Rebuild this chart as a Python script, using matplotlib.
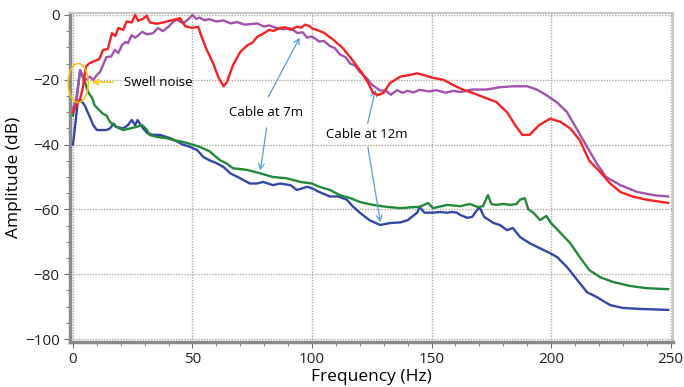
#!/usr/bin/env python3

from matplotlib import pyplot as plt
from matplotlib.patches import Ellipse
from matplotlib.ticker import MultipleLocator

# red curve
red_f = [0, 2, 3, 4, 5.4, 6.7, 8.4, 11, 12.6, 14.6, 16.3, 17.7, 19, 21, 22.5, 24.6, 26, 27.3,
         29.5, 30.8, 32.2, 35, 37.7, 42, 44.8, 47, 50, 52.4, 53.8, 56, 58.6, 60.7, 63, 64.4, 67,
         70, 73, 75, 77, 80, 82, 84, 86.6, 89, 91, 93.7, 95.5, 97, 99, 100, 102, 105, 109, 113,
         117, 121, 123.5, 125.5, 127.6, 130, 132.6, 137, 141, 144, 146.5, 150.6, 155, 159, 163,
         167, 173, 177, 181.6, 185, 188, 191, 195, 199.6, 204, 208, 212, 216, 220.5, 224.7, 229,
         234, 240, 249]
red_db = [-30, -27, -25.8, -23, -16, -15, -14.4, -13.6, -10.8, -10.5, -5.6, -6.5, -4, -4.6, -2,
          -2.3, 0, -1.8, -1.1, -0.2, -2.3, -2.7, -2.3, -1.5, -1, -3.5, -4, -3.6, -6.7, -10.8,
          -14.8, -19, -22, -20.7, -15.4, -11.4, -9.3, -8.6, -6.8, -5.6, -4.6, -4.9, -4, -3.8,
          -4.6, -3.6, -3.9, -3, -3.4, -4.1, -4.6, -5.5, -7.7, -10.3, -14, -18, -21, -24, -24.7,
          -24, -21, -19, -18.5, -18, -18.5, -19.4, -20, -21.6, -23, -24, -25.7, -26.8, -30, -34,
          -37, -37, -34, -32, -33, -35, -38.6, -45, -48.4, -52, -54.6, -56, -57, -58]

# purple curve
purple_f = [0, 1.6, 3, 4, 5.7, 7, 8.5, 10, 11.3, 12.6, 14, 16, 17.5, 19, 20.5, 22, 23, 24.6,
            26, 27, 29, 31, 33.5, 35.6, 37.6, 40, 42, 43.5, 46, 48, 50, 51.5, 53, 55, 57, 60,
            63, 66, 68.6, 72, 77, 80, 82, 85, 88, 91, 94, 96, 98, 100, 103, 105, 107.5, 109.5,
            111.7, 114, 116, 118, 120, 123, 125, 128.5, 131, 133, 135.5, 138, 140, 142.5, 145,
            149, 152, 156, 159, 162, 167, 173, 178.6, 184, 190, 194, 198, 202.5, 206.7, 211, 215,
            219, 223, 229, 236, 243, 249]
purple_db = [-29, -25, -17, -19, -20, -19, -20, -18.5, -17.6, -15.4, -13, -12.8, -10.8, -11.7,
             -9.3, -8.3, -8.7, -6.2, -7, -6.5, -5.2, -6, -5.6, -4, -5, -3.6, -2, -1.5, -2.5,
             -1.5, 0, -1.2, -0.8, -1.6, -1.3, -2, -1.7, -2.6, -2.2, -3, -2.6, -3.6, -3.2, -4,
             -4.4, -4.1, -5.6, -5.3, -7, -6.6, -8.2, -8, -9.6, -10.2, -12.2, -13, -15, -15.6,
             -17.6, -19.6, -21.5, -23.3, -23.4, -24.6, -23.2, -24, -23.4, -23.9, -23.1, -23.6,
             -23.2, -24, -23.4, -23.8, -23, -23, -22.3, -22, -22, -23, -24.7, -27, -30, -35.5,
             -40.6, -45.7, -50, -52.5, -54.6, -55.6, -56]

# green curve
green_f = [0, 1.5, 3, 5, 6.3, 8, 9, 10.5, 12.6, 14, 15.5, 18, 21, 24, 26.7, 29, 31, 32, 35, 39,
           42, 45, 47.7, 50, 53, 57, 61.5, 64, 67, 72.8, 78, 83.7, 89.5, 95, 100, 103, 107.5,
           111.7, 116, 120, 125.5, 131, 137, 142, 145, 148.6, 150.6, 156.5, 162, 166, 169.5,
           171.5, 173.6, 175, 177, 180, 183, 185.6, 187, 189, 190.5, 192.6, 195.4, 198, 200,
           204, 208, 212, 216, 220.5, 226, 233, 240, 249]
green_db = [-31, -26, -17, -20.7, -23.7, -25.6, -27.8, -29, -30.5, -31, -33, -34.5, -35.5, -35,
            -34.5, -34, -35.5, -37, -37.6, -38, -38.6, -39, -39.5, -40, -40.7, -42, -44.8,
            -45.7, -47.3, -47.8, -48.8, -50, -50.4, -51.5, -52, -53, -54, -55.6, -56.5, -57.7,
            -58.6, -59.2, -59.6, -59.3, -59.2, -58, -59.6, -58.6, -59, -58.3, -59.3, -59,
            -55.6, -58.3, -58.6, -58.3, -58.6, -58.3, -57, -56.5, -60, -61, -63.3, -62, -64.2,
            -67.3, -70.4, -74.7, -78.7, -80.9, -82.4, -83.6, -84.3, -84.6]

# blue curve
blue_f = [0, 2, 3, 5, 7, 8.5, 10, 11.3, 14, 15.5, 17, 18, 21, 23, 24.6, 26, 27, 28.8, 31, 33.5,
          36.4, 40.6, 43.5, 46, 49, 52, 54.5, 57, 60, 63, 65.7, 70, 74, 77, 79.5, 83.7, 86.6,
          91, 93.7, 98, 100, 103, 107.5, 111, 114.6, 117, 120, 124, 128.5, 132.6, 137, 140,
          144, 145, 147, 150.6, 153.6, 156.5, 158.6, 160.6, 162, 165, 167, 170, 172, 176,
          178.6, 181.6, 184, 187, 191, 195.4, 199.6, 202.5, 206.7, 211, 215, 219, 224.7, 230,
          237, 249]
blue_db = [-40, -27, -26, -28, -31.4, -34, -35.5, -35.5, -35.5, -35, -33.5, -34.5, -35, -34,
           -32.4, -34, -32.4, -34.5, -36.4, -37, -37, -38, -39, -40, -40.7, -41.7, -43.8, -44.8,
           -45.7, -46.9, -48.8, -50.4, -52, -52, -51.5, -52.5, -52, -52.5, -54, -53, -53.5,
           -54.6, -56, -56, -57, -59, -61, -63.3, -64.8, -64.2, -64, -63.3, -61, -59.2, -61,
           -61, -60.8, -61, -60.8, -61, -61.7, -62.6, -62.3, -59.2, -62.3, -64.2, -64.8, -66.4,
           -65.7, -68.5, -70.4, -72, -73.5, -74.7, -77.8, -81.8, -85.5, -87, -89.5, -90.4,
           -90.7, -91]

if __name__ == '__main__':
    plt.rcParams['font.family'] = ['Open Sans', 'DejaVu Sans']

    fig = plt.figure(figsize=(6.84, 3.87), dpi=100)
    ax = fig.add_axes([0.1023, 0.1163, 0.8816, 0.850])

    ax.plot(blue_f, blue_db, color='#3347a8', lw=1.7, zorder=3)
    ax.plot(green_f, green_db, color='#23893a', lw=1.7, zorder=3)
    ax.plot(purple_f, purple_db, color='#a052ad', lw=1.7, zorder=3)
    ax.plot(red_f, red_db, color='#f42222', lw=1.7, zorder=4)

    ax.set_xlim(-1.25, 251)
    ax.set_ylim(-100.9, 0.6)
    ax.xaxis.set_major_locator(MultipleLocator(50))
    ax.xaxis.set_minor_locator(MultipleLocator(10))
    ax.yaxis.set_major_locator(MultipleLocator(20))
    ax.yaxis.set_minor_locator(MultipleLocator(5))
    ax.grid(True, which='major', color='#b0aca8', ls=(0, (1, 1)), lw=1)
    ax.tick_params(which='both', direction='out', color='#707070', labelsize=11,
                   labelcolor='#222222')
    ax.tick_params(which='major', length=4)
    ax.tick_params(which='minor', length=3)

    for side in ['left', 'bottom']:
        ax.spines[side].set_color('#8a8a8a')
        ax.spines[side].set_linewidth(2.5)
    for side in ['top', 'right']:
        ax.spines[side].set_color('#c8c8c8')
        ax.spines[side].set_linewidth(1.5)

    ax.set_xlabel('Frequency (Hz)', fontsize=12.5, labelpad=1)
    ax.set_ylabel('Amplitude (dB)', fontsize=12.5, labelpad=2)

    # swell noise marker
    ax.add_patch(Ellipse((2.2, -21), 8.4, 12, fill=False, ec='#ffc000', lw=1.1,
                         zorder=5, clip_on=False))
    ax.annotate('', xy=(6.7, -20.7), xytext=(18, -20.7),
                arrowprops=dict(arrowstyle='->', color='#ffc000', lw=1))
    ax.text(21.3, -20.7, 'Swell noise', fontsize=9.5, va='center', ha='left')

    arrow = dict(arrowstyle='->', color='#5b9bd5', lw=0.9)
    ax.text(80.8, -30.2, 'Cable at 7m', fontsize=9.5, va='center', ha='center')
    ax.annotate('', xy=(95.4, -6.2), xytext=(81.2, -26), arrowprops=arrow)
    ax.annotate('', xy=(78.2, -48.8), xytext=(81.2, -34), arrowprops=arrow)

    ax.text(123, -37, 'Cable at 12m', fontsize=9.5, va='center', ha='center')
    ax.annotate('', xy=(126.8, -22.2), xytext=(123, -34.3), arrowprops=arrow)
    ax.annotate('', xy=(128.8, -64.8), xytext=(123.2, -40), arrowprops=arrow)

    plt.savefig('out.png')
